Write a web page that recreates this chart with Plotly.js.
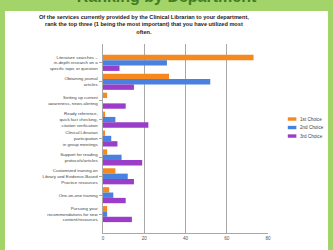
<!DOCTYPE html>
<html>
<head>
<meta charset="utf-8">
<script src="https://cdn.plot.ly/plotly-3.0.1.min.js"></script>
<style>
  html, body { margin: 0; padding: 0; }
  body { width: 333px; height: 250px; background: #a2d46a; overflow: hidden; position: relative; }
  #top { position: absolute; left: 0; top: -12px; width: 333px; text-align: center;
         font-family: "Liberation Sans", Arial, sans-serif; font-weight: bold; font-size: 16px; color: #3f7d20; }
  #chart { position: absolute; left: 5px; top: 11px; width: 323px; height: 239px; background: #fff; }
</style>
</head>
<body>
<div id="top">Ranking by Department</div>
<div id="chart"></div>
<script>
const categories = [
  "Literature searches –<br>in-depth research on a<br>specific topic or question",
  "Obtaining journal<br>articles",
  "Setting up current<br>awareness, news alerting",
  "Ready reference,<br>quick fact checking,<br>citation verification",
  "Clinical Librarian<br>participation<br>in group meetings",
  "Support for reading<br>protocols/articles",
  "Customized training on<br>Library and Evidence-Based<br>Practice resources",
  "One-on-one training",
  "Pursuing your<br>recommendations for new<br>content/resources"
];
const seriesNames = ["1st Choice", "2nd Choice", "3rd Choice"];
const firstChoice  = [73, 32, 2, 1, 1, 2, 6, 3, 2];
const secondChoice = [31, 52, 0, 6, 4, 9, 12, 5, 2];
const thirdChoice  = [8, 15, 11, 22, 7, 19, 15, 11, 14];
const xTicks = [0, 20, 40, 60, 80];
const colors = ["#f5891f", "#4a80de", "#9a3dc8"];
const subtitle = "Of the services currently provided by the Clinical Librarian to your department,<br>rank the top three (1 being the most important) that you have utilized most<br>often.";

const values = [firstChoice, secondChoice, thirdChoice];
const traces = values.map((v, i) => ({
  type: "bar",
  orientation: "h",
  name: seriesNames[i],
  x: v,
  y: categories,
  marker: { color: colors[i], line: { width: 0 } },
  showlegend: false,
  hoverinfo: "x+name"
}));

const font = "Liberation Sans, Arial, sans-serif";
// manual legend
const legY = [0.603, 0.558, 0.513];
const shapes = [];
const annotations = [];
seriesNames.forEach((n, i) => {
  shapes.push({
    type: "rect", xref: "paper", yref: "paper",
    x0: 1.12, x1: 1.172, y0: legY[i] - 0.009, y1: legY[i] + 0.009,
    fillcolor: colors[i], line: { width: 0 }
  });
  annotations.push({
    xref: "paper", yref: "paper", x: 1.183, y: legY[i],
    xanchor: "left", yanchor: "middle", showarrow: false,
    text: n, font: { family: font, size: 4.6, color: "#444" }
  });
});
// subtitle
annotations.push({
  xref: "paper", yref: "paper",
  x: (139 - 98) / 165.5, y: 1 + (33 - 1.5) / 189,
  xanchor: "center", yanchor: "top", showarrow: false, align: "center",
  text: "<b>" + subtitle + "</b>",
  font: { family: font, size: 5.6, color: "#222" }
});

const layout = {
  width: 323, height: 239,
  margin: { l: 98, r: 59.5, t: 33, b: 17, pad: 0 },
  paper_bgcolor: "#ffffff",
  plot_bgcolor: "#ffffff",
  barmode: "group",
  bargap: 0.15,
  bargroupgap: 0,
  showlegend: false,
  xaxis: {
    range: [0, 80],
    tickvals: xTicks,
    ticktext: xTicks.map(String),
    showgrid: true, gridcolor: "#a8a8a8", gridwidth: 1.4,
    zeroline: false,
    showline: true, linecolor: "#a8a8a8", linewidth: 1.4,
    ticks: "",
    tickfont: { family: font, size: 4.6, color: "#555" },
    fixedrange: true
  },
  yaxis: {
    type: "category",
    range: [9, -1],
    showgrid: false,
    zeroline: false,
    showline: true, linecolor: "#a8a8a8", linewidth: 1.4,
    ticks: "outside", ticklen: 3, tickcolor: "#a8a8a8", tickwidth: 1,
    tickfont: { family: font, size: 4.4, color: "#444" },
    fixedrange: true
  },
  shapes: shapes,
  annotations: annotations
};

Plotly.newPlot("chart", traces, layout, { staticPlot: true, displayModeBar: false });
</script>
</body>
</html>
